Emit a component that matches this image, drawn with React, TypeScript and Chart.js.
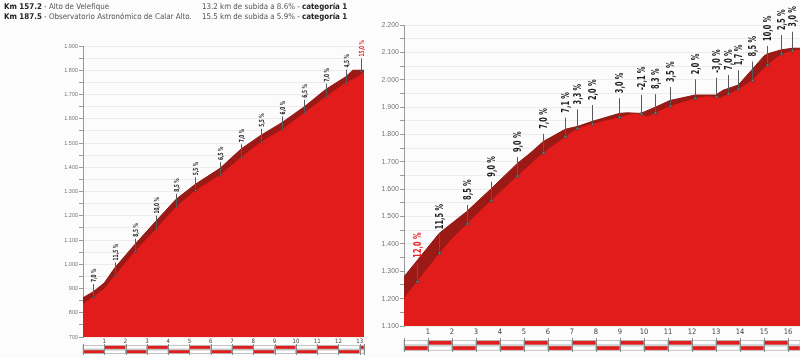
import React, { useEffect, useRef } from 'react';
import { Chart, registerables } from 'chart.js';

Chart.register(...registerables);

// ---------- Left chart: Alto de Velefique ----------
const leftKm = [0, 0.47, 1.0, 1.49, 2.42, 3.45, 4.37, 5.28, 6.44, 7.42, 8.36, 9.34, 10.39, 11.4, 12.34, 12.9, 13.2];
const leftElev = [838, 865, 900, 954, 1052, 1147, 1237, 1305, 1368, 1441, 1505, 1556, 1625, 1691, 1749, 1772, 1795];
const leftTopKm = [0, 0.47, 1.0, 1.49, 2.42, 3.45, 4.37, 5.28, 6.44, 7.42, 8.36, 9.34, 10.39, 11.4, 12.34, 12.67, 13.2];
const leftTop = [862, 886, 923, 985, 1080, 1180, 1268, 1330, 1396, 1475, 1532, 1584, 1649, 1721, 1773, 1800, 1800];
const leftLabelKm = [0.47, 1.49, 2.42, 3.45, 4.37, 5.28, 6.44, 7.42, 8.36, 9.34, 10.39, 11.4, 12.34, 13.06];
const leftLabelElev = [865, 954, 1052, 1147, 1237, 1305, 1368, 1441, 1505, 1556, 1625, 1691, 1749, 1795];
const leftLabelText = ['7,0 %', '11,5 %', '8,5 %', '10,0 %', '8,5 %', '5,5 %', '6,5 %', '7,0 %', '5,5 %', '6,0 %', '6,5 %', '7,0 %', '4,5 %', '15,0 %'];
const leftLabelRed = [false, false, false, false, false, false, false, false, false, false, false, false, false, true];

// ---------- Right chart: Observatorio de Calar Alto ----------
const rightKm = [0, 0.53, 1.47, 2.0, 2.61, 3.61, 4.72, 5.8, 6.72, 7.22, 7.82, 8.97, 9.5, 9.86, 10.15, 10.46, 11.08, 12.13, 12.6, 12.99, 13.2, 13.51, 13.93, 14.49, 15.13, 15.7, 16.18, 16.5];
const rightElev = [1202, 1262, 1366, 1420, 1473, 1558, 1648, 1733, 1792, 1822, 1838, 1863, 1876, 1875, 1866, 1878, 1904, 1932, 1940, 1938, 1934, 1948, 1965, 1997, 2054, 2094, 2106, 2111];
const rightTopKm = [0, 1.47, 2.61, 3.61, 4.72, 5.25, 5.8, 6.72, 7.22, 7.82, 8.97, 9.3, 9.86, 10.46, 11.08, 12.13, 12.75, 12.99, 13.3, 13.51, 13.93, 14.49, 15.0, 15.13, 15.7, 16.18, 16.5];
const rightTop = [1280, 1439, 1518, 1600, 1694, 1731, 1774, 1819, 1829, 1847, 1877, 1879, 1877, 1899, 1924, 1944, 1944, 1944, 1962, 1968, 1981, 2036, 2087, 2094, 2109, 2115, 2115];
const rightLabelKm = [0.53, 1.47, 2.61, 3.61, 4.72, 5.8, 6.72, 7.22, 7.82, 8.97, 9.86, 10.46, 11.08, 12.13, 12.99, 13.51, 13.93, 14.49, 15.13, 15.7, 16.18];
const rightLabelElev = [1262, 1366, 1473, 1558, 1648, 1733, 1792, 1822, 1838, 1863, 1875, 1878, 1904, 1932, 1938, 1948, 1965, 1997, 2054, 2094, 2106];
const rightLabelText = ['12,0 %', '11,5 %', '8,5 %', '9,0 %', '9,0 %', '7,0 %', '7,1 %', '3,3 %', '2,0 %', '3,0 %', '-2,1 %', '8,3 %', '3,5 %', '2,0 %', '-3,0 %', '7,0 %', '1,7 %', '8,5 %', '10,0 %', '2,5 %', '3,0 %'];
const rightLabelRed = [true, false, false, false, false, false, false, false, false, false, false, false, false, false, false, false, false, false, false, false, false];

const RED = '#e21c1a';
const DARK = '#9b1a16';
const NARROW = '"Liberation Sans Narrow", "DejaVu Sans Condensed", "Arial Narrow", sans-serif';
const SANS = '"Liberation Sans", Arial, sans-serif';

function fmtElev(v: number): string {
  if (v >= 1000) {
    const t = Math.floor(v / 1000);
    const r = v % 1000;
    return `${t}.${String(r).padStart(3, '0')}`;
  }
  return String(v);
}

type Side = {
  km: number[]; elev: number[]; topKm: number[]; top: number[];
  labelKm: number[]; labelElev: number[]; labelText: string[]; labelRed: boolean[];
  yMin: number; yMax: number; xMax: number;
  width: number; height: number;
  yWidth: number; xHeight: number; padTop: number; padRight: number;
  labelFont: number; labelSquash: number; labelOffset: number; lineLen: number; dotR: number;
  xFont: number; yFont: number; xPad: number;
  row1: number; row2: number; rowH: number; tickTop: number; tickBottom: number;
};

function makePlugin(s: Side) {
  return {
    id: 'profileExtras',
    afterDatasetsDraw(chart: any) {
      const ctx = chart.ctx as CanvasRenderingContext2D;
      const xs = chart.scales.x;
      const ys = chart.scales.y;
      ctx.save();
      for (let i = 0; i < s.labelKm.length; i++) {
        const px = Math.round(xs.getPixelForValue(s.labelKm[i])) + 0.5;
        const py = ys.getPixelForValue(s.labelElev[i]);
        ctx.strokeStyle = '#5a5a5a';
        ctx.lineWidth = 1;
        ctx.beginPath();
        ctx.moveTo(px, py);
        ctx.lineTo(px, py - s.lineLen);
        ctx.stroke();
        ctx.beginPath();
        ctx.arc(px, py, s.dotR, 0, Math.PI * 2);
        ctx.fillStyle = '#777';
        ctx.fill();
        ctx.strokeStyle = '#333';
        ctx.lineWidth = 0.6;
        ctx.stroke();
        ctx.save();
        ctx.translate(px, py - s.labelOffset);
        ctx.rotate(-Math.PI / 2);
        ctx.scale(s.labelSquash, 1);
        ctx.font = `bold ${s.labelFont}px ${NARROW}`;
        ctx.fillStyle = s.labelRed[i] ? '#e8262a' : '#1e1e1e';
        ctx.textAlign = 'left';
        ctx.textBaseline = 'middle';
        ctx.fillText(s.labelText[i], 0, 0.5);
        ctx.restore();
      }
      ctx.restore();
    },
    afterDraw(chart: any) {
      const ctx = chart.ctx as CanvasRenderingContext2D;
      const xs = chart.scales.x;
      ctx.save();
      const n = Math.ceil(s.xMax);
      for (let i = 0; i < n; i++) {
        const x0 = xs.getPixelForValue(i);
        const x1 = xs.getPixelForValue(Math.min(i + 1, s.xMax));
        const topRed = i % 2 === 1;
        ctx.fillStyle = topRed ? RED : '#ffffff';
        ctx.fillRect(x0, s.row1, x1 - x0, s.rowH);
        ctx.fillStyle = topRed ? '#ffffff' : RED;
        ctx.fillRect(x0, s.row2, x1 - x0, s.rowH);
        ctx.strokeStyle = '#a8a8a8';
        ctx.lineWidth = 0.7;
        ctx.strokeRect(x0, s.row1, x1 - x0, s.rowH);
        ctx.strokeRect(x0, s.row2, x1 - x0, s.rowH);
      }
      ctx.strokeStyle = '#8a8a8a';
      ctx.lineWidth = 1;
      for (let i = 0; i <= n; i++) {
        const v = Math.min(i, s.xMax);
        const x = Math.round(xs.getPixelForValue(v)) + 0.5;
        ctx.beginPath();
        ctx.moveTo(x, s.tickTop);
        ctx.lineTo(x, s.tickBottom);
        ctx.stroke();
      }
      ctx.restore();
    },
  };
}

function makeConfig(s: Side): any {
  return {
    type: 'line',
    data: {
      datasets: [
        {
          data: s.km.map((x, i) => ({ x, y: s.elev[i] })),
          borderWidth: 0,
          borderColor: RED,
          backgroundColor: RED,
          pointRadius: 0,
          fill: 'start',
          tension: 0,
          order: 0,
        },
        {
          data: s.topKm.map((x, i) => ({ x, y: s.top[i] })),
          borderWidth: 1,
          borderColor: '#8c1712',
          backgroundColor: DARK,
          pointRadius: 0,
          fill: 'start',
          tension: 0,
          order: 1,
        },
      ],
    },
    options: {
      animation: false,
      responsive: false,
      maintainAspectRatio: false,
      events: [],
      layout: { padding: { top: s.padTop, right: s.padRight, left: 0, bottom: 0 } },
      plugins: { legend: { display: false }, tooltip: { enabled: false }, title: { display: false } },
      scales: {
        x: {
          type: 'linear',
          min: 0,
          max: s.xMax,
          ticks: {
            stepSize: 1,
            includeBounds: false,
            autoSkip: false,
            maxRotation: 0,
            padding: s.xPad,
            color: '#444',
            font: { size: s.xFont, family: NARROW },
            callback: (v: number) => (v === 0 ? '' : String(v)),
          },
          grid: { display: false, drawTicks: false },
          border: { display: false },
          afterFit: (sc: any) => { sc.height = s.xHeight; },
        },
        y: {
          type: 'linear',
          min: s.yMin,
          max: s.yMax,
          ticks: {
            stepSize: 50,
            autoSkip: false,
            padding: 1,
            color: '#777',
            font: { size: s.yFont, family: SANS },
            callback: (v: number) => (v % 100 === 0 ? fmtElev(v) : ''),
          },
          grid: { color: '#ececec', tickColor: '#9a9a9a', tickLength: 4, lineWidth: 1 },
          border: { color: '#9a9a9a', width: 1 },
          afterFit: (sc: any) => { sc.width = s.yWidth; },
        },
      },
    },
    plugins: [makePlugin(s)],
  };
}

const leftSide: Side = {
  km: leftKm, elev: leftElev, topKm: leftTopKm, top: leftTop,
  labelKm: leftLabelKm, labelElev: leftLabelElev, labelText: leftLabelText, labelRed: leftLabelRed,
  yMin: 700, yMax: 1900, xMax: 13.2,
  width: 370, height: 358,
  yWidth: 83, xHeight: 21, padTop: 46, padRight: 6,
  labelFont: 7, labelSquash: 0.68, labelOffset: 15, lineLen: 13, dotR: 1.1,
  xFont: 6, yFont: 5.5, xPad: 1,
  row1: 345.7, row2: 350, rowH: 3.4, tickTop: 344, tickBottom: 355,
};

const rightSide: Side = {
  km: rightKm, elev: rightElev, topKm: rightTopKm, top: rightTop,
  labelKm: rightLabelKm, labelElev: rightLabelElev, labelText: rightLabelText, labelRed: rightLabelRed,
  yMin: 1100, yMax: 2200, xMax: 16.5,
  width: 430, height: 358,
  yWidth: 34, xHeight: 32, padTop: 25, padRight: 0,
  labelFont: 10.5, labelSquash: 0.7, labelOffset: 24, lineLen: 19, dotR: 1.5,
  xFont: 7.5, yFont: 7, xPad: 2,
  row1: 340.7, row2: 346, rowH: 4.2, tickTop: 338, tickBottom: 352,
};

function ProfileChart({ side, left }: { side: Side; left: number }) {
  const ref = useRef<HTMLCanvasElement | null>(null);
  useEffect(() => {
    if (!ref.current) return;
    const chart = new Chart(ref.current, makeConfig(side));
    return () => chart.destroy();
  }, [side]);
  return (
    <canvas
      ref={ref}
      width={side.width}
      height={side.height}
      style={{ position: 'absolute', left, top: 0, width: side.width, height: side.height }}
    />
  );
}

const HEADER_FONT = '"DejaVu Sans Condensed", "DejaVu Sans", Verdana, sans-serif';

export default function App() {
  const lineStyle: React.CSSProperties = {
    position: 'absolute',
    whiteSpace: 'nowrap',
    fontFamily: HEADER_FONT,
    fontSize: '7.9px',
    lineHeight: '10px',
    color: '#555',
  };
  const b: React.CSSProperties = { fontWeight: 'bold', color: '#222' };
  return (
    <div style={{ position: 'absolute', left: 0, top: 0, width: 800, height: 358, background: '#fcfcfc', overflow: 'hidden' }}>
      <ProfileChart side={leftSide} left={0} />
      <ProfileChart side={rightSide} left={370} />
      <div style={{ ...lineStyle, left: 4, top: 2 }}><span style={b}>Km 157.2</span> - Alto de Velefique</div>
      <div style={{ ...lineStyle, left: 202, top: 2 }}>13.2 km de subida a 8.6% - <span style={b}>categoría 1</span></div>
      <div style={{ ...lineStyle, left: 4, top: 12 }}><span style={b}>Km 187.5</span> - Observatorio Astronómico de Calar Alto.</div>
      <div style={{ ...lineStyle, left: 202, top: 12 }}>15.5 km de subida a 5.9% - <span style={b}>categoría 1</span></div>
    </div>
  );
}
